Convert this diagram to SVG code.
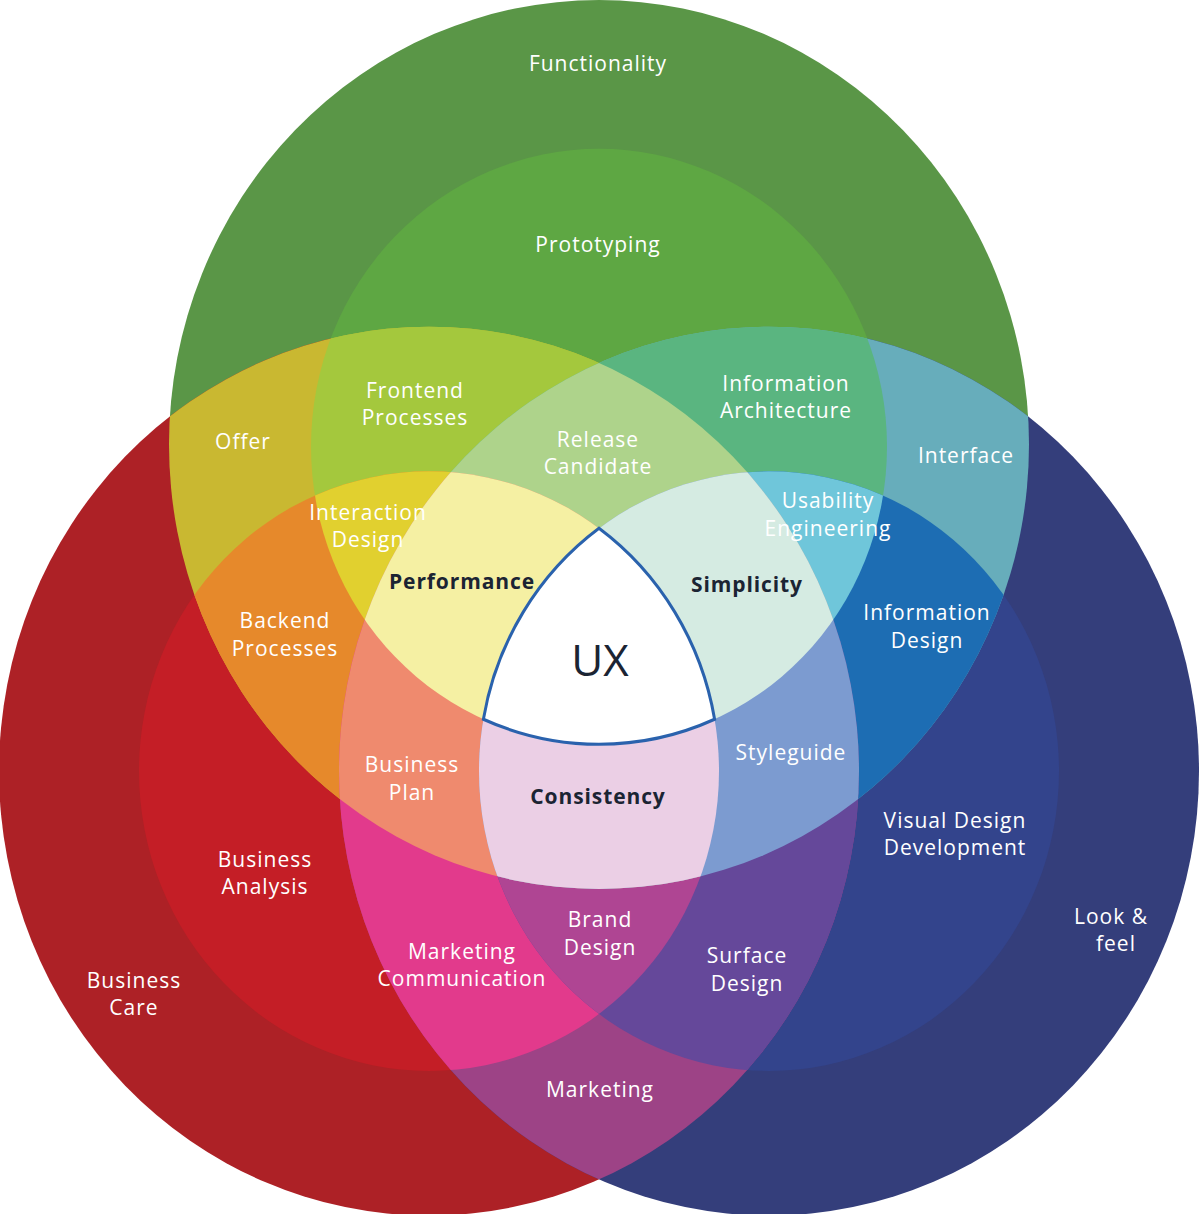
<svg xmlns="http://www.w3.org/2000/svg" width="1200" height="1214" viewBox="0 0 1200 1214">
<style>
.l{font-family:"Open Sans","Liberation Sans",sans-serif;font-size:21px;fill:#ffffff;text-anchor:middle;letter-spacing:1px}
.d{font-family:"Open Sans","Liberation Sans",sans-serif;font-size:21px;font-weight:700;fill:#1b2433;text-anchor:middle;letter-spacing:0.9px}
.ux{font-family:"Open Sans","Liberation Sans",sans-serif;font-size:44px;font-weight:500;fill:#1b2433;text-anchor:middle}
</style>
<defs>
<clipPath id="cG"><circle cx="599" cy="430" r="430"/></clipPath>
<clipPath id="cg"><circle cx="599" cy="432" r="288"/></clipPath>
<clipPath id="cR"><circle cx="429" cy="746" r="430"/></clipPath>
<clipPath id="cr"><circle cx="429" cy="746" r="290"/></clipPath>
<clipPath id="cB"><circle cx="769" cy="746" r="430"/></clipPath>
<clipPath id="cb"><circle cx="769" cy="746" r="290"/></clipPath>
</defs>
<g id="venn" transform="scale(1 1.0337)">
<g id="functionality"><circle cx="599" cy="430" r="430" fill="#5A9647"/></g>
<g id="business-care"><circle cx="429" cy="746" r="430" fill="#AD2126"/></g>
<g id="look-and-feel"><circle cx="769" cy="746" r="430" fill="#343E7B"/></g>
<g id="prototyping"><circle cx="599" cy="432" r="288" fill="#5EA743"/></g>
<g id="business-analysis"><circle cx="429" cy="746" r="290" fill="#C41E26"/></g>
<g id="visual-design-development"><circle cx="769" cy="746" r="290" fill="#33448C"/></g>
<g id="offer" clip-path="url(#cG)"><circle cx="429" cy="746" r="430" fill="#C9B831"/></g>
<g id="interface" clip-path="url(#cG)"><circle cx="769" cy="746" r="430" fill="#67ADBB"/></g>
<g id="marketing" clip-path="url(#cR)"><circle cx="769" cy="746" r="430" fill="#9D4386"/></g>
<g id="frontend-processes" clip-path="url(#cg)"><circle cx="429" cy="746" r="430" fill="#A4C83D"/></g>
<g id="information-architecture" clip-path="url(#cg)"><circle cx="769" cy="746" r="430" fill="#5AB580"/></g>
<g id="backend-processes" clip-path="url(#cG)"><circle cx="429" cy="746" r="290" fill="#E6892B"/></g>
<g id="marketing-communication" clip-path="url(#cB)"><circle cx="429" cy="746" r="290" fill="#E23A8C"/></g>
<g id="information-design" clip-path="url(#cG)"><circle cx="769" cy="746" r="290" fill="#1D6DB3"/></g>
<g id="surface-design" clip-path="url(#cR)"><circle cx="769" cy="746" r="290" fill="#65489A"/></g>
<g id="interaction-design" clip-path="url(#cg)"><circle cx="429" cy="746" r="290" fill="#E1D02F"/></g>
<g id="usability-engineering" clip-path="url(#cg)"><circle cx="769" cy="746" r="290" fill="#6FC6DA"/></g>
<g id="brand-design" clip-path="url(#cr)"><circle cx="769" cy="746" r="290" fill="#AF4593"/></g>
<g id="release-candidate" clip-path="url(#cg)"><g clip-path="url(#cR)"><circle cx="769" cy="746" r="430" fill="#AED38B"/></g></g>
<g id="business-plan" clip-path="url(#cG)"><g clip-path="url(#cr)"><circle cx="769" cy="746" r="430" fill="#EF8A6E"/></g></g>
<g id="styleguide" clip-path="url(#cG)"><g clip-path="url(#cR)"><circle cx="769" cy="746" r="290" fill="#7C9BD0"/></g></g>
<g id="performance" clip-path="url(#cg)"><g clip-path="url(#cr)"><circle cx="769" cy="746" r="430" fill="#F5F0A3"/></g></g>
<g id="simplicity" clip-path="url(#cg)"><g clip-path="url(#cR)"><circle cx="769" cy="746" r="290" fill="#D5EBE2"/></g></g>
<g id="consistency" clip-path="url(#cG)"><g clip-path="url(#cr)"><circle cx="769" cy="746" r="290" fill="#EBCFE5"/></g></g>
<g id="ux"><path d="M599,511.05 A290,290 0 0 0 483.39,695.77 A288,288 0 0 0 714.61,695.77 A290,290 0 0 0 599,511.05 Z" fill="#ffffff" stroke="#2A62AD" stroke-width="3"/></g>
</g>
<g id="labels">
<text class="l" x="598" y="71">Functionality</text>
<text class="l" x="598" y="252">Prototyping</text>
<text class="l" x="415" y="398">Frontend</text>
<text class="l" x="415" y="425">Processes</text>
<text class="l" x="786" y="391">Information</text>
<text class="l" x="786" y="418">Architecture</text>
<text class="l" x="243" y="449">Offer</text>
<text class="l" x="598" y="447">Release</text>
<text class="l" x="598" y="474">Candidate</text>
<text class="l" x="966" y="463">Interface</text>
<text class="l" x="368" y="520">Interaction</text>
<text class="l" x="368" y="547">Design</text>
<text class="l" x="828" y="508">Usability</text>
<text class="l" x="828" y="536">Engineering</text>
<text class="d" x="462" y="589">Performance</text>
<text class="d" x="747" y="592">Simplicity</text>
<text class="l" x="285" y="628">Backend</text>
<text class="l" x="285" y="656">Processes</text>
<text class="ux" x="600" y="676">UX</text>
<text class="l" x="927" y="620">Information</text>
<text class="l" x="927" y="648">Design</text>
<text class="l" x="412" y="772">Business</text>
<text class="l" x="412" y="800">Plan</text>
<text class="l" x="791" y="760">Styleguide</text>
<text class="d" x="598" y="804">Consistency</text>
<text class="l" x="955" y="828">Visual Design</text>
<text class="l" x="955" y="855">Development</text>
<text class="l" x="265" y="867">Business</text>
<text class="l" x="265" y="894">Analysis</text>
<text class="l" x="600" y="927">Brand</text>
<text class="l" x="600" y="955">Design</text>
<text class="l" x="1111" y="924">Look &amp;</text>
<text class="l" x="1116" y="951">feel</text>
<text class="l" x="462" y="959">Marketing</text>
<text class="l" x="462" y="986">Communication</text>
<text class="l" x="747" y="963">Surface</text>
<text class="l" x="747" y="991">Design</text>
<text class="l" x="134" y="988">Business</text>
<text class="l" x="134" y="1015">Care</text>
<text class="l" x="600" y="1097">Marketing</text>
</g>
</svg>
